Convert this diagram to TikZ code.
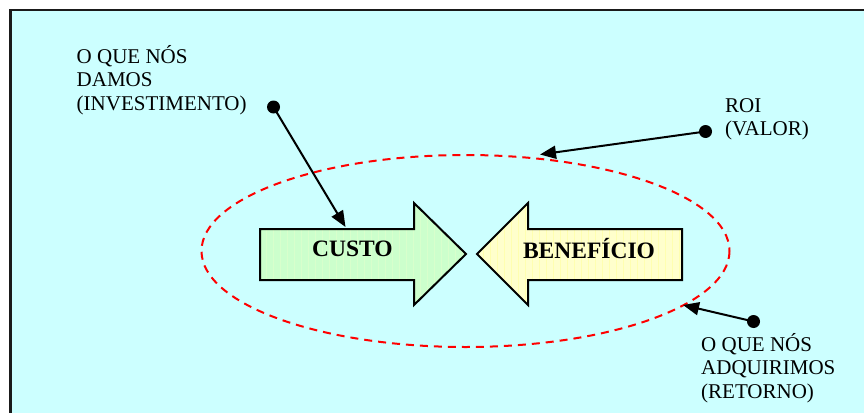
\documentclass[tikz,border=0pt]{standalone}
\usepackage{fontspec}
\setmainfont{Liberation Serif}
\usetikzlibrary{arrows.meta}
\definecolor{bgcyan}{HTML}{CCFFFF}
\definecolor{costgreen}{HTML}{CCFFCC}
\definecolor{costgrid}{HTML}{D8FFCC}
\definecolor{gainyellow}{HTML}{FFFFCC}
\definecolor{gaingrid}{HTML}{FFFFB0}
\definecolor{framegray}{HTML}{1A1A1A}
\tikzset{
  label text/.style={font=\fontsize{21}{23.5}\selectfont, align=left, inner sep=0pt, anchor=base west},
  arrow text/.style={font=\fontsize{23.5}{26}\selectfont\bfseries, inner sep=0pt},
  block arrow/.style={draw=black, line width=2pt, line join=miter},
  pin dot/.style={circle, fill=black, inner sep=0pt, minimum size=13pt},
  pointer/.style={draw=black, line width=2pt, -{Triangle[length=16pt,width=13pt]}},
  scope ring/.style={draw=red, line width=2pt, dash pattern=on 8pt off 6pt},
}
\begin{document}
\begin{tikzpicture}[x=1pt,y=-1pt]
  \useasboundingbox (0,0) rectangle (864,412);
  % page background and frame (open towards the right and bottom)
  \fill[white] (0,0) rectangle (864,412);
  \fill[bgcyan] (10.5,10) rectangle (870,420);
  \draw[framegray, line width=2.6pt] (10.5,420) -- (10.5,10) -- (870,10);

  % dashed boundary around cost and benefit
  \draw[scope ring] (465.5,251) ellipse [x radius=264, y radius=96];

  % cost arrow, pointing right
  \path[fill=costgreen] (260,229) -- (414,229) -- (414,203) -- (466,254) -- (414,305) -- (414,280) -- (260,280) -- cycle;
  \begin{scope}
    \clip (260,229) -- (414,229) -- (414,203) -- (466,254) -- (414,305) -- (414,280) -- (260,280) -- cycle;
    \draw[costgrid, line width=0.6pt, step=7] (253,196) grid (470,310);
  \end{scope}
  \draw[block arrow] (260,229) -- (414,229) -- (414,203) -- (466,254) -- (414,305) -- (414,280) -- (260,280) -- cycle;

  % benefit arrow, pointing left
  \path[fill=gainyellow] (682,229) -- (528,229) -- (528,203) -- (477,254) -- (528,305) -- (528,280) -- (682,280) -- cycle;
  \begin{scope}
    \clip (682,229) -- (528,229) -- (528,203) -- (477,254) -- (528,305) -- (528,280) -- (682,280) -- cycle;
    \draw[gaingrid, line width=0.6pt, step=7] (470,196) grid (690,310);
  \end{scope}
  \draw[block arrow] (682,229) -- (528,229) -- (528,203) -- (477,254) -- (528,305) -- (528,280) -- (682,280) -- cycle;

  \node[arrow text] (custo) at (352.5,249) {CUSTO};
  \node[arrow text] (beneficio) at (589,249) {BENEFÍCIO};

  % targets of the pointers
  \coordinate (costtop) at (345.5,227);
  \coordinate (ringtop) at (540,154.5);
  \coordinate (ringright) at (683,305);

  % labels with their pins (anchored at the baseline of the last line)
  \node[label text] (damos) at (76.5,110) {O QUE NÓS\\DAMOS\\(INVESTIMENTO)};
  \node[pin dot] (damosdot) at (273.5,107) {};
  \draw[pointer] (damosdot.center) -- (costtop);

  \node[label text] (roi) at (725,135.5) {ROI\\(VALOR)};
  \node[pin dot] (roidot) at (705.5,131.5) {};
  \draw[pointer] (roidot.center) -- (ringtop);

  \node[label text] (retorno) at (701,398) {O QUE NÓS\\ADQUIRIMOS\\(RETORNO)};
  \node[pin dot] (retornodot) at (753.5,321.5) {};
  \draw[pointer] (retornodot.center) -- (ringright);
\end{tikzpicture}
\end{document}
